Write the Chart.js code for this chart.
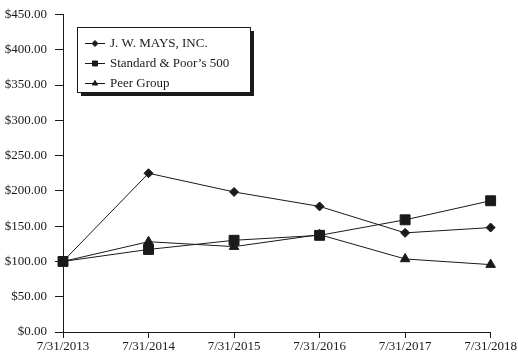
<!DOCTYPE html>
<html>
<head>
<meta charset="utf-8">
<script src="https://cdn.jsdelivr.net/npm/chart.js@4/dist/chart.umd.min.js"></script>
<style>
  html, body { margin: 0; padding: 0; background: #fff; }
  #wrap { width: 518px; height: 354px; }
</style>
</head>
<body>
<div id="wrap"><canvas id="returnsChart"></canvas></div>
<script>
const years = ['7/31/2013', '7/31/2014', '7/31/2015', '7/31/2016', '7/31/2017', '7/31/2018'];
const mays = [100, 225, 198.5, 178, 140.5, 148];
const sp500 = [100, 117, 130, 137, 159, 186];
const peers = [100, 128, 121, 138, 103.5, 95.5];
const yTicks = [0, 50, 100, 150, 200, 250, 300, 350, 400, 450];

const serif = "'Liberation Serif', 'Times New Roman', serif";
const ink = '#1a1a1a';

// legend drawn as a boxed panel inside the plot, like the printed original
const boxedLegend = {
    id: 'boxedLegend',
    afterDraw(chart) {
        const ctx = chart.ctx;
        const x = 77, y = 27, w = 173, h = 65;
        ctx.save();
        ctx.fillStyle = ink;
        ctx.fillRect(x + 4, y + 4, w, h);
        ctx.fillStyle = '#fff';
        ctx.fillRect(x, y, w, h);
        ctx.strokeStyle = ink;
        ctx.lineWidth = 1;
        ctx.strokeRect(x + 0.5, y + 0.5, w, h);

        ctx.font = '13px ' + serif;
        ctx.textBaseline = 'middle';
        chart.data.datasets.forEach((ds, i) => {
            const rowY = y + 16 + i * 20;
            ctx.strokeStyle = ink;
            ctx.beginPath();
            ctx.moveTo(x + 8, rowY + 0.5);
            ctx.lineTo(x + 28, rowY + 0.5);
            ctx.stroke();
            const r = ds.pointStyle === 'rect' ? 3.5 : 3;
            Chart.helpers.drawPoint(ctx, {
                pointStyle: ds.pointStyle, radius: r, rotation: 0, borderWidth: 1
            }, x + 18, rowY + 0.5);
            ctx.fillStyle = ink;
            ctx.fill();
            ctx.fillText(ds.label, x + 33, rowY + 1);
        });
        ctx.restore();
    }
};

function series(label, data, style, radius) {
    return {
        label: label,
        data: data,
        borderColor: ink,
        borderWidth: 1,
        backgroundColor: ink,
        pointBackgroundColor: ink,
        pointBorderColor: ink,
        pointStyle: style,
        pointRadius: radius,
        tension: 0
    };
}

new Chart(document.getElementById('returnsChart'), {
    type: 'line',
    data: {
        labels: years,
        datasets: [
            series('J. W. MAYS, INC.', mays, 'rectRot', 4.5),
            series('Standard & Poor\u2019s 500', sp500, 'rect', 7),
            series('Peer Group', peers, 'triangle', 5.5)
        ]
    },
    options: {
        responsive: true,
        maintainAspectRatio: false,
        animation: false,
        layout: { padding: { top: 0, right: 26, left: 0, bottom: 0 } },
        plugins: {
            legend: { display: false },
            tooltip: { enabled: false }
        },
        scales: {
            x: {
                offset: false,
                afterFit: axis => { axis.height = 22; },
                grid: { drawOnChartArea: false, color: ink, tickLength: 6 },
                border: { color: ink, width: 1 },
                ticks: {
                    color: ink,
                    font: { family: serif, size: 13 },
                    maxRotation: 0,
                    autoSkip: false,
                    padding: 1
                }
            },
            y: {
                min: 0,
                max: 450,
                afterBuildTicks: axis => {
                    axis.ticks = yTicks.map(v => ({ value: v }));
                },
                afterFit: axis => { axis.width = 63; },
                grid: { drawOnChartArea: false, color: ink, tickLength: 8 },
                border: { color: ink, width: 1 },
                ticks: {
                    color: ink,
                    font: { family: serif, size: 13, lineHeight: 1 },
                    padding: 8,
                    callback: v => '$' + v.toFixed(2)
                }
            }
        }
    },
    plugins: [boxedLegend]
});
</script>
</body>
</html>
